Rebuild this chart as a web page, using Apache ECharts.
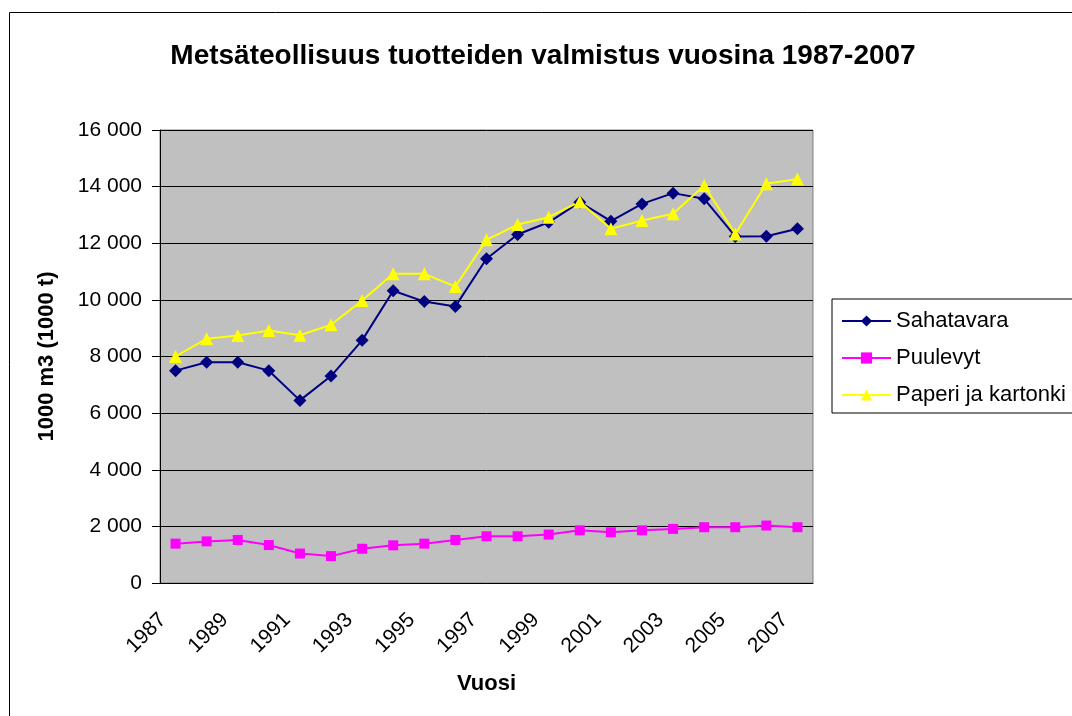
<!DOCTYPE html>
<html>
<head>
<meta charset="utf-8">
<script src="https://cdn.jsdelivr.net/npm/echarts@6/dist/echarts.min.js"></script>
<style>
  html, body { margin: 0; padding: 0; background: #fff; }
  #chart { width: 1072px; height: 716px; }
</style>
</head>
<body>
<div id="chart"></div>
<script>
// vuodet
const years = ['1987', '1988', '1989', '1990', '1991', '1992', '1993', '1994', '1995', '1996', '1997',
  '1998', '1999', '2000', '2001', '2002', '2003', '2004', '2005', '2006', '2007']

// 1000 m3 (1000 t)
const sahatavara = [7500, 7800, 7800, 7500, 6450, 7310, 8570, 10320, 9940, 9770, 11450,
  12310, 12740, 13450, 12780, 13390, 13770, 13570, 12240, 12250, 12510]
const puulevyt = [1390, 1470, 1520, 1340, 1040, 950, 1210, 1330, 1390, 1520, 1650,
  1650, 1710, 1860, 1790, 1860, 1910, 1970, 1970, 2030, 1970]
const paperi = [8000, 8630, 8740, 8920, 8750, 9120, 9980, 10920, 10920, 10470, 12120,
  12660, 12920, 13470, 12510, 12800, 13040, 14040, 12330, 14100, 14270]

const seriesNames = ['Sahatavara', 'Puulevyt', 'Paperi ja kartonki']

const font = 'Liberation Sans, Arial, sans-serif'

const chart = echarts.init(document.getElementById('chart'))

function thousands(v) {
  return String(v).replace(/\B(?=(\d{3})+(?!\d))/g, ' ')
}

const option = {
  backgroundColor: '#fff',
  animation: false,
  textStyle: { fontFamily: font },
  graphic: [{
    type: 'rect',
    shape: { x: 9.5, y: 12.5, width: 1100, height: 800 },
    style: { fill: 'none', stroke: '#000', lineWidth: 1 },
    silent: true
  }],
  title: {
    text: 'Metsäteollisuus tuotteiden valmistus vuosina 1987-2007',
    left: 538,
    textAlign: 'center',
    top: 37,
    textStyle: { fontFamily: font, fontSize: 28, fontWeight: 'bold', color: '#000' }
  },
  legend: {
    data: seriesNames,
    orient: 'vertical',
    left: 832,
    top: 299,
    padding: [11, 40, 7, 9],
    itemGap: 15,
    itemWidth: 49,
    itemHeight: 14,
    borderColor: '#000',
    borderWidth: 1,
    backgroundColor: '#fff',
    textStyle: { fontFamily: font, fontSize: 22, color: '#000' }
  },
  grid: {
    left: 160,
    right: 259,
    top: 130,
    bottom: 133,
    show: true,
    backgroundColor: '#c0c0c0',
    borderColor: '#808080',
    borderWidth: 1
  },
  xAxis: {
    type: 'category',
    data: years,
    boundaryGap: true,
    name: 'Vuosi',
    nameLocation: 'middle',
    nameGap: 90,
    nameTextStyle: { fontFamily: font, fontSize: 22, fontWeight: 'bold', color: '#000' },
    axisLine: { lineStyle: { color: '#000', width: 1 } },
    axisTick: { interval: 0, length: 7, lineStyle: { color: '#000' } },
    axisLabel: {
      interval: 1,
      rotate: 45,
      margin: 21,
      padding: [0, 18, 0, 0],
      fontFamily: font,
      fontSize: 21,
      color: '#000'
    }
  },
  yAxis: {
    type: 'value',
    min: 0,
    max: 16000,
    interval: 2000,
    name: '1000 m3 (1000 t)',
    nameLocation: 'middle',
    nameRotate: 90,
    nameGap: 102,
    nameTextStyle: { fontFamily: font, fontSize: 22, fontWeight: 'bold', color: '#000' },
    axisLine: { show: true, lineStyle: { color: '#000', width: 1 } },
    axisTick: { show: true, length: 8, lineStyle: { color: '#000' } },
    splitLine: { lineStyle: { color: '#000', width: 1 } },
    axisLabel: {
      margin: 18,
      fontFamily: font,
      fontSize: 21,
      color: '#000',
      formatter: thousands
    }
  },
  series: [
    {
      name: seriesNames[0],
      type: 'line',
      data: sahatavara,
      symbol: 'diamond',
      symbolSize: 13,
      color: '#000080',
      lineStyle: { color: '#000080', width: 2 },
      itemStyle: { color: '#000080' }
    },
    {
      name: seriesNames[1],
      type: 'line',
      data: puulevyt,
      symbol: 'rect',
      symbolSize: 10,
      color: '#ff00ff',
      lineStyle: { color: '#ff00ff', width: 2 },
      itemStyle: { color: '#ff00ff' }
    },
    {
      name: seriesNames[2],
      type: 'line',
      data: paperi,
      symbol: 'triangle',
      symbolSize: 13,
      color: '#ffff00',
      lineStyle: { color: '#ffff00', width: 2 },
      itemStyle: { color: '#ffff00' }
    }
  ]
}

chart.setOption(option)
</script>
</body>
</html>
